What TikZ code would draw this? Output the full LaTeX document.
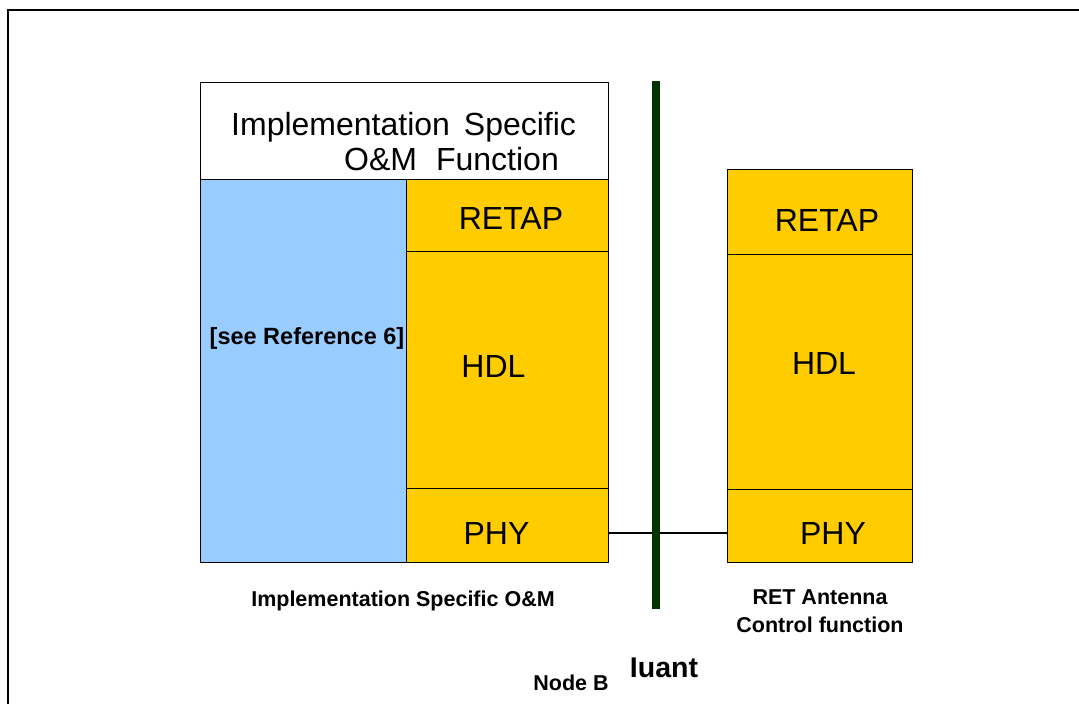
\documentclass[tikz,border=0pt]{standalone}
\usepackage{fontspec}
\setmainfont{Liberation Sans}
\usetikzlibrary{positioning}
\definecolor{retyellow}{HTML}{FFCC00}
\definecolor{omblue}{HTML}{99CCFF}
\definecolor{iuantgreen}{HTML}{003300}
\tikzstyle{layer box}=[
    draw = black,
    line width = 0.9pt,
    fill = retyellow,
    inner sep = 0pt,
    outer sep = 0pt,
    rectangle
]
\tikzstyle{big text}=[
    font = \fontsize{32}{35}\selectfont,
    inner sep = 0pt,
    anchor = base
]
\tikzstyle{caption}=[
    font = \fontsize{21.5}{28}\selectfont\bfseries,
    inner sep = 0pt
]

\begin{document}
\begin{tikzpicture}[x=1pt, y=-1pt, iuant bar/.style = {line width=8pt, draw=iuantgreen}]
        \useasboundingbox (0,0) rectangle (1079,704);
        \draw[line width=2pt] (8,704) -- (8,10) -- (1079,10);

        % Node B side
        \node[layer box, fill=white, minimum width=408pt, minimum height=97pt, anchor=north west] (header) at (200,82) {};
        \node[layer box, fill=omblue, minimum width=206pt, minimum height=383pt, anchor=north west] (omblock) at (header.south west) {};
        \node[layer box, minimum width=202pt, minimum height=72pt, anchor=north east] (retapL) at (header.south east) {};
        \node[layer box, minimum width=202pt, minimum height=237pt] (hdlL) [below=0pt of retapL] {};
        \node[layer box, minimum width=202pt, minimum height=74pt] (phyL) [below=0pt of hdlL] {};

        % antenna side
        \node[layer box, minimum width=184.5pt, minimum height=85.5pt, anchor=north west] (retapR) at (727.5,169) {};
        \node[layer box, minimum width=184.5pt, minimum height=235pt] (hdlR) [below=0pt of retapR] {};
        \node[layer box, minimum width=184.5pt, minimum height=72.5pt] (phyR) [below=0pt of hdlR] {};

        \node[big text, anchor=north west, align=left] (headerlbl) at (231,112)
            {Implementation\hspace{14pt}Specific\\\hspace*{113pt}O\&M\hspace{19pt}Function};
        \node[big text] (retapLlbl) at (511,229) {RETAP};
        \node[big text] (hdlLlbl) at (493.5,377) {HDL};
        \node[big text] (phyLlbl) at (496.5,544) {PHY};
        \node[big text] (retapRlbl) at (827,231) {RETAP};
        \node[big text] (hdlRlbl) at (824,374) {HDL};
        \node[big text] (phyRlbl) at (833,544) {PHY};
        \node[caption, font=\fontsize{23.5}{28}\selectfont\bfseries, anchor=base] (seeref) at (307,344) {[see Reference 6]};

        \draw[line width=1.2pt] ([yshift=-8pt]phyL.east) -- ([yshift=-8pt]phyL.east -| phyR.west);

        \coordinate (bartop) at (656,81);
        \coordinate (barbot) at (656,609);
        \draw[iuant bar] (bartop) -- (barbot);

        \node[caption, anchor=base] (omlbl) at (403,606) {Implementation Specific O\&M};
        \node[caption, anchor=north, align=center] (retlbl) at (820,589.5) {RET Antenna\\Control function};
        \node[caption, anchor=base] (nodeb) at (571,690) {Node B};
        \node[caption, font=\fontsize{28.5}{32}\selectfont\bfseries, anchor=base] (iuant) at (664,677) {Iuant};

    \end{tikzpicture}
\end{document}
